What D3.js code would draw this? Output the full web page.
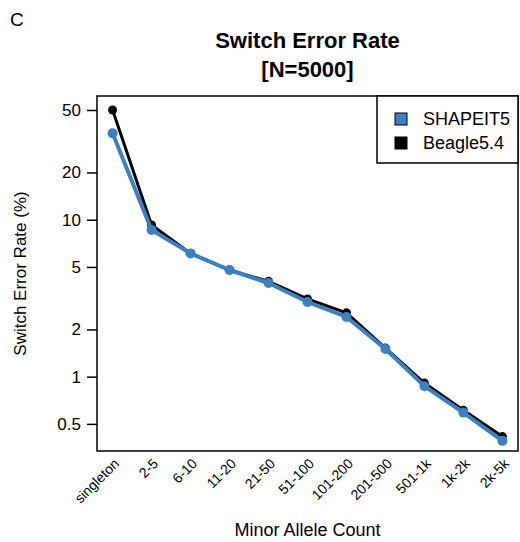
<!DOCTYPE html>
<html>
<head>
<meta charset="utf-8">
<script src="https://cdn.jsdelivr.net/npm/d3@7"></script>
<style>
  body { margin: 0; background: #fff; }
  text { font-family: "Liberation Sans", Arial, Helvetica, sans-serif; }
</style>
</head>
<body>
<svg id="chart" width="520" height="542"></svg>
<script>
const categories = ["singleton", "2-5", "6-10", "11-20", "21-50", "51-100", "101-200", "201-500", "501-1k", "1k-2k", "2k-5k"];
const shapeit5 = [35.5, 8.6, 6.1, 4.78, 3.95, 2.99, 2.40, 1.50, 0.87, 0.59, 0.39];
const beagle54 = [50.0, 9.25, 6.1, 4.78, 4.05, 3.13, 2.55, 1.52, 0.91, 0.61, 0.415];
const yTicks = [0.5, 1, 2, 5, 10, 20, 50];
const seriesNames = ["SHAPEIT5", "Beagle5.4"];
const seriesColors = ["#3d80c0", "#000000"];

const margin = { left: 97, right: 2, top: 96, bottom: 91 };
const width = 520, height = 542;
const drawWidth = width - margin.left - margin.right;
const drawHeight = height - margin.top - margin.bottom;

const svg = d3.select("#chart");

// x: category index with R style padding
const xScale = d3.scaleLinear().domain([0.6, 11.4]).range([0, drawWidth]);
const yScale = d3.scaleLog().domain([0.336, 61.4]).range([drawHeight, 0]);

const g = svg.append("g").attr("transform", `translate(${margin.left},${margin.top})`);

// panel letter and title
svg.append("text").attr("x", 10).attr("y", 26).attr("font-size", 19).text("C");
svg.append("text").attr("x", margin.left + drawWidth / 2).attr("y", 48)
  .attr("text-anchor", "middle").attr("font-size", 22).attr("font-weight", "bold")
  .text("Switch Error Rate");
svg.append("text").attr("x", margin.left + drawWidth / 2).attr("y", 77)
  .attr("text-anchor", "middle").attr("font-size", 22).attr("font-weight", "bold")
  .text("[N=5000]");

// y axis
const yAxis = d3.axisLeft(yScale).tickValues(yTicks).tickFormat(d => d).tickSize(10).tickPadding(6);
const yG = g.append("g").call(yAxis);
yG.select(".domain").remove();
yG.selectAll("line").attr("stroke", "#000").attr("stroke-width", 1.5);
yG.selectAll("text").attr("font-size", 17).attr("fill", "#000");

// x axis labels (rotated)
const xG = g.append("g").attr("transform", `translate(0,${drawHeight})`);
xG.selectAll("text").data(categories).enter().append("text")
  .attr("transform", (d, i) => `translate(${xScale(i + 1) + 4},${10}) rotate(-45)`)
  .attr("text-anchor", "end")
  .attr("dy", "0.35em")
  .attr("font-size", 14)
  .text(d => d);

// axis titles
svg.append("text").attr("transform", `translate(26,${margin.top + drawHeight / 2}) rotate(-90)`)
  .attr("text-anchor", "middle").attr("font-size", 17).text("Switch Error Rate (%)");
svg.append("text").attr("x", margin.left + drawWidth / 2).attr("y", 536)
  .attr("text-anchor", "middle").attr("font-size", 18).text("Minor Allele Count");

// lines: Beagle first, SHAPEIT5 on top
const line = d3.line().x((d, i) => xScale(i + 1)).y(d => yScale(d));
const series = [
  { name: seriesNames[1], values: beagle54, color: seriesColors[1], w: 3, r: 4.5 },
  { name: seriesNames[0], values: shapeit5, color: seriesColors[0], w: 4, r: 5 }
];
series.forEach(s => {
  g.append("path").datum(s.values).attr("d", line)
    .attr("fill", "none").attr("stroke", s.color).attr("stroke-width", s.w)
    .attr("stroke-linejoin", "round");
  g.selectAll(null).data(s.values).enter().append("circle")
    .attr("cx", (d, i) => xScale(i + 1)).attr("cy", d => yScale(d))
    .attr("r", s.r).attr("fill", s.color);
});

// box
g.append("rect").attr("width", drawWidth).attr("height", drawHeight)
  .attr("fill", "none").attr("stroke", "#000").attr("stroke-width", 1.5);

// legend
const lg = g.append("g").attr("transform", `translate(${377 - margin.left},0)`);
lg.append("rect").attr("width", drawWidth - (377 - margin.left)).attr("height", 67)
  .attr("fill", "#fff").attr("stroke", "#000").attr("stroke-width", 1.5);
seriesNames.forEach((n, i) => {
  lg.append("rect").attr("x", 18).attr("y", 17 + i * 24).attr("width", 12).attr("height", 12)
    .attr("fill", seriesColors[i]).attr("stroke", "#000").attr("stroke-width", 1);
  lg.append("text").attr("x", 46).attr("y", 23 + i * 24).attr("dy", "0.35em")
    .attr("font-size", 18).text(n);
});
</script>
</body>
</html>
